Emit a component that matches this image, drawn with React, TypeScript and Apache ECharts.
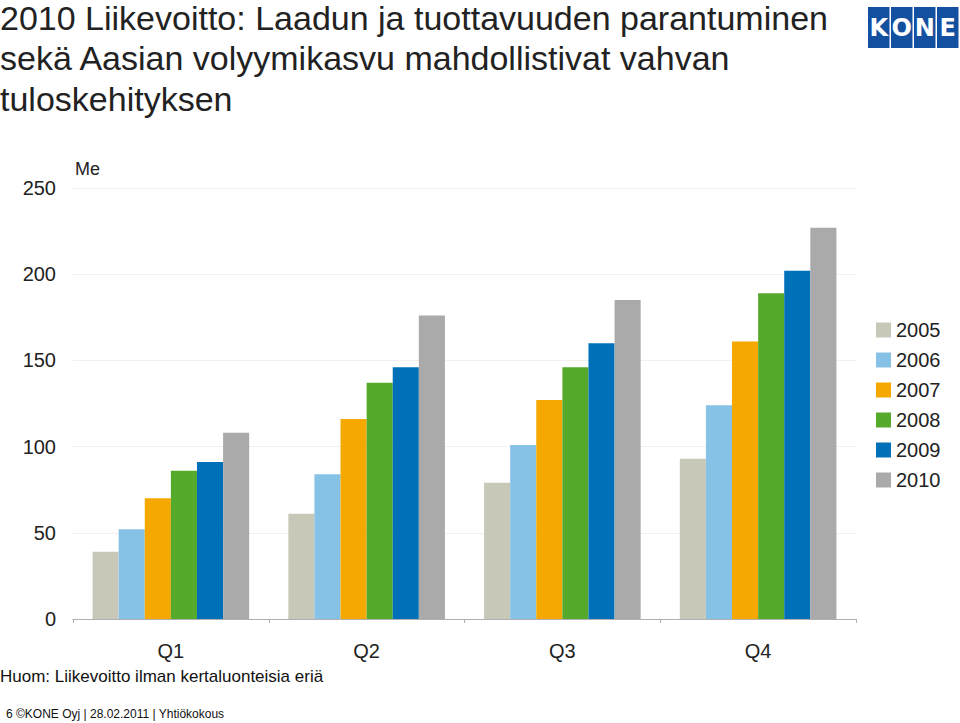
import React, { useEffect, useRef } from "react";
import * as echarts from "echarts";

const quarters = ["Q1", "Q2", "Q3", "Q4"];
const years = ["2005", "2006", "2007", "2008", "2009", "2010"];
const values2005 = [39, 61, 79, 93];
const values2006 = [52, 84, 101, 124];
const values2007 = [70, 116, 127, 161];
const values2008 = [86, 137, 146, 189];
const values2009 = [91, 146, 160, 202];
const values2010 = [108, 176, 185, 227];
const yearColors = ["#c8c8b8", "#86c2e6", "#f5a800", "#56aa2b", "#0070b8", "#aaaaaa"];
const yTicks = [0, 50, 100, 150, 200, 250];
const titleLines = [
  "2010 Liikevoitto: Laadun ja tuottavuuden parantuminen",
  "sekä Aasian volyymikasvu mahdollistivat vahvan",
  "tuloskehityksen",
];

const seriesValues = [values2005, values2006, values2007, values2008, values2009, values2010];

export default function App() {
  const ref = useRef<HTMLDivElement>(null);
  useEffect(() => {
    if (!ref.current) return;
    const chart = echarts.init(ref.current, null, { renderer: "svg" });
    const font = "Liberation Sans, Arial, sans-serif";
    const logoLetters = ["K", "O", "N", "E"];
    const titleTops = [1, 41, 82];
    chart.setOption({
      animation: false,
      textStyle: { fontFamily: font },
      grid: { left: 73, right: 104, top: 188, bottom: 104, containLabel: false },
      legend: {
        orient: "vertical",
        left: 871,
        top: 315,
        itemWidth: 15,
        itemHeight: 15,
        itemGap: 10,
        icon: "rect",
        textStyle: { fontSize: 20, color: "#222", fontFamily: font },
        data: years,
      },
      xAxis: {
        type: "category",
        data: quarters,
        axisLine: { lineStyle: { color: "#b0b0b0", width: 1 } },
        axisTick: { show: true, length: 4, lineStyle: { color: "#b0b0b0" } },
        axisLabel: { fontSize: 20, color: "#222", margin: 22, fontFamily: font },
      },
      yAxis: {
        type: "value",
        min: yTicks[0],
        max: yTicks[yTicks.length - 1],
        interval: 50,
        axisLine: { show: false },
        axisTick: { show: false },
        splitLine: { lineStyle: { color: "#f0f0f0", width: 1 } },
        axisLabel: { fontSize: 20, color: "#222", margin: 17, fontFamily: font },
      },
      series: years.map((y, i) => ({
        name: y,
        type: "bar",
        data: seriesValues[i],
        barGap: "0%",
        barCategoryGap: "20%",
        itemStyle: { color: yearColors[i] },
      })),
      graphic: [
        ...titleLines.map((t, i) => ({
          type: "text",
          left: 0,
          top: titleTops[i],
          style: {
            text: t,
            fontSize: 34,
            lineHeight: 30,
            fill: "#222",
            fontFamily: font,
          },
        })),
        {
          type: "text",
          left: 75,
          top: 160,
          style: { text: "Me", fontSize: 18, fill: "#222", fontFamily: font },
        },
        {
          type: "text",
          left: 0,
          top: 668,
          style: {
            text: "Huom: Liikevoitto ilman kertaluonteisia eriä",
            fontSize: 17,
            fill: "#111",
            fontFamily: font,
          },
        },
        {
          type: "text",
          left: 6,
          top: 708,
          style: {
            text: "6 ©KONE Oyj | 28.02.2011 | Yhtiökokous",
            fontSize: 12,
            fill: "#111",
            fontFamily: font,
          },
        },
        ...logoLetters.map((l, i) => ({
          type: "group",
          left: 868 + i * 23,
          top: 7,
          children: [
            { type: "rect", shape: { x: 0, y: 0, width: 21.5, height: 41 }, style: { fill: "#1450a0" } },
            {
              type: "text",
              x: 10.75,
              y: 20.5,
              style: {
                text: l,
                fontSize: 24,
                fontWeight: "bold",
                fill: "#ffffff",
                align: "center",
                verticalAlign: "middle",
                fontFamily: "DejaVu Sans, sans-serif",
              },
            },
          ],
        })),
      ],
    });
    return () => chart.dispose();
  }, []);
  return (
    <div
      ref={ref}
      style={{ position: "absolute", left: 0, top: 0, width: 960, height: 723, background: "#fff" }}
    />
  );
}
